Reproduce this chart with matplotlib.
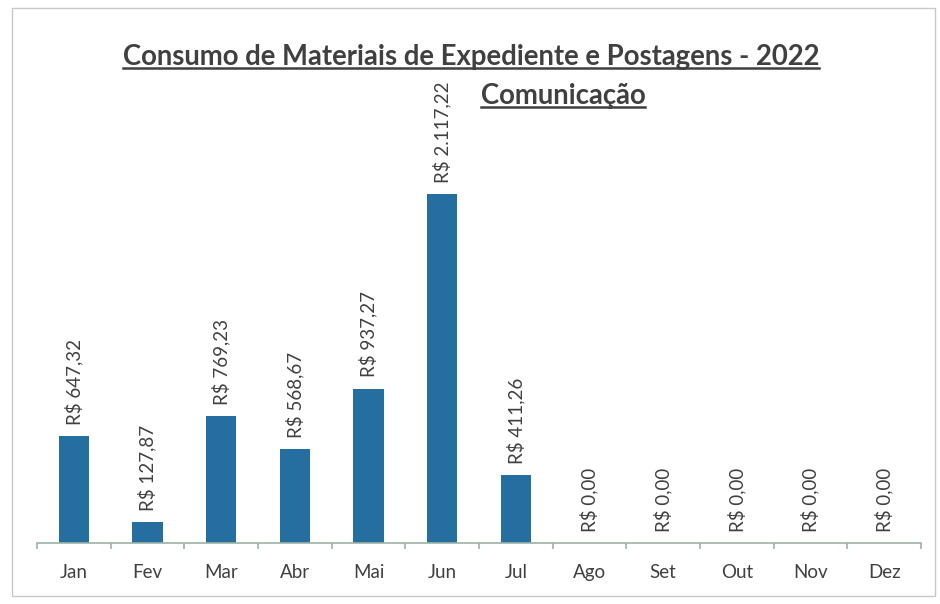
import matplotlib
matplotlib.use("Agg")
import matplotlib.pyplot as plt
from matplotlib.lines import Line2D
from matplotlib.patches import Rectangle
import numpy as np

months = ["Jan", "Fev", "Mar", "Abr", "Mai", "Jun", "Jul", "Ago", "Set", "Out", "Nov", "Dez"]
values = [647.32, 127.87, 769.23, 568.67, 937.27, 2117.22, 411.26, 0, 0, 0, 0, 0]
title1 = "Consumo de Materiais de Expediente e Postagens - 2022"
title2 = "Comunicação"

def brl(v):
    s = f"{v:,.2f}".replace(",", "X").replace(".", ",").replace("X", ".")
    return "R$ " + s

plt.rcParams['font.family'] = ['Lato', 'DejaVu Sans']

fig = plt.figure(figsize=(9.4, 6.04), dpi=100)
ax = fig.add_axes([37/940, 61/604, (921-37)/940, (543-100)/604])

x = np.arange(len(months))
bar_color = '#246FA0'
ax.bar(x, values, width=0.41, color=bar_color, zorder=2)
ax.set_xlim(-0.5, len(months) - 0.5)
ax.set_ylim(0, 443/0.1648)

for xi, v in zip(x, values):
    ax.annotate(brl(v), (xi, v), xytext=(0, 8), textcoords='offset points',
                rotation=90, ha='center', va='bottom', fontsize=13.5, color='#404040')

for s in ['top', 'right', 'left']:
    ax.spines[s].set_visible(False)
ax.spines['bottom'].set_color('#9db3a6')
ax.spines['bottom'].set_linewidth(1.2)
ax.set_yticks([])
ax.set_xticks(x)
ax.set_xticklabels(months, fontsize=13.5, color='#404040')
ax.tick_params(axis='x', which='major', length=0, pad=15)
ax.set_xticks(np.arange(-0.5, len(months), 1), minor=True)
ax.tick_params(axis='x', which='minor', length=4, color='#9db3a6', width=1.2)

t1 = fig.text(471/940, 1 - 57/604, title1, ha='center', va='center',
              fontsize=19.8, fontweight='bold', color='#404040')
t2 = fig.text(563/940, 1 - 96/604, title2, ha='center', va='center',
              fontsize=19.8, fontweight='bold', color='#404040')

renderer = fig.canvas.get_renderer()
for t in (t1, t2):
    bb = t.get_window_extent(renderer).transformed(fig.transFigure.inverted())
    yline = bb.y0 + 0.004
    fig.add_artist(Line2D([bb.x0, bb.x1], [yline, yline], transform=fig.transFigure,
                          color='#404040', linewidth=1.8))

fig.add_artist(Rectangle((12/940, 8/604), (935-12)/940, (596-8)/604, transform=fig.transFigure,
                         fill=False, edgecolor='#c8c8c8', linewidth=1))

fig.savefig("out.png", dpi=100)
